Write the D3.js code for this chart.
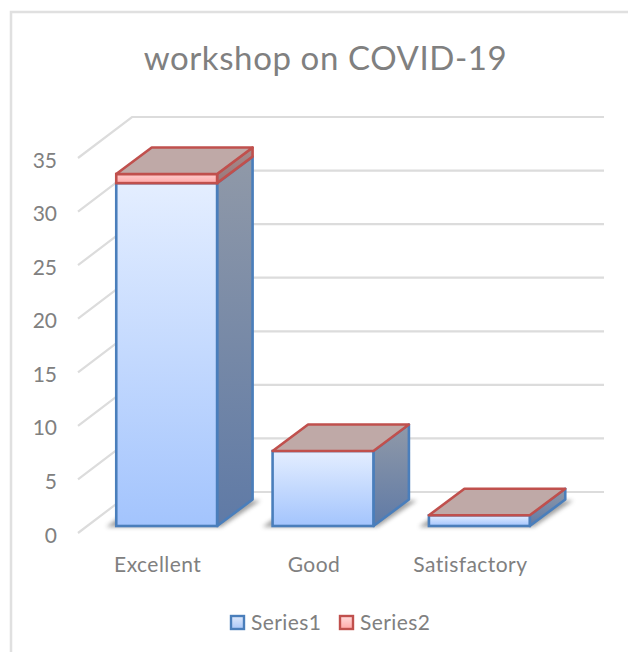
<!DOCTYPE html>
<html><head><meta charset="utf-8">
<script src="https://cdn.jsdelivr.net/npm/d3@7/dist/d3.min.js"></script>
<style>html,body{margin:0;padding:0;background:#fff}svg{display:block}
text{font-family:Lato,"Open Sans",sans-serif;fill:#808080}</style></head><body>
<div id="c"></div>
<script>
const titleText = "workshop on COVID-19";
const categories = ["Excellent","Good","Satisfactory"];
const series1 = [32,7,1];
const series2 = [0.85,0,0];
const seriesNames = ["Series1","Series2"];
const yTicks = [0,5,10,15,20,25,30,35];

const W=628,H=652;
const svg=d3.select("#c").append("svg").attr("width",W).attr("height",H);
const defs=svg.append("defs");
function grad(id,c1,c2){const g=defs.append("linearGradient").attr("id",id).attr("x1",0).attr("y1",0).attr("x2",0).attr("y2",1);
 g.append("stop").attr("offset",0).attr("stop-color",c1);g.append("stop").attr("offset",1).attr("stop-color",c2);}
grad("blueFront","#e4eeff","#a3c4fd");
grad("blueSide","#9099a8","#5f7aa6");
grad("redFront","#ffcdcd","#ffa9a9");
grad("redSide","#a88b8c","#98797b");
grad("blueKey","#dfe9fb","#a9c6f8");
grad("redKey","#ffdcdc","#ffa8a8");
defs.append("filter").attr("id","blur").attr("x","-20%").attr("y","-50%").attr("width","140%").attr("height","200%")
 .append("feGaussianBlur").attr("stdDeviation",2);

// frame
svg.append("path").attr("d",`M${W},12H11V${H}`).attr("fill","none").attr("stroke","#e0e0e0").attr("stroke-width",2.5);

svg.append("text").attr("x",325.5).attr("y",70).attr("text-anchor","middle")
 .attr("font-size",33).style("letter-spacing","0.6px").text(titleText);

const y=d3.scaleLinear().domain([0,35]).range([526,151]);
const x=d3.scaleBand().domain(categories).range([88.5,557.5]).paddingInner(0.355).paddingOuter(0.1775);
const dx=35.5,dy=26.5;         // bar depth projection
const wallDx=54,wallDy=41,floorDrop=7; // wall projection

// gridlines on walls
const grid=svg.append("g").attr("fill","none").attr("stroke","#dcdcdc").attr("stroke-width",2.2);
yTicks.forEach(t=>{
 const yf=y(t)+floorDrop;
 grid.append("path").attr("d",`M78,${yf}L${78+wallDx},${yf-wallDy}H604`);
});

// y axis labels
const yAxis=d3.axisLeft(y).tickValues(yTicks).tickSize(0).tickPadding(0);
const ga=svg.append("g").attr("transform","translate(57,9.3)").call(yAxis);
ga.select(".domain").remove();
ga.selectAll("text").attr("font-size",21).style("font-family","Lato").style("fill","#808080");

// x axis labels
const xAxis=d3.axisBottom(x).tickSize(0).tickPadding(0);
const gx=svg.append("g").attr("transform","translate(-9,557.5)").call(xAxis);
gx.select(".domain").remove();
gx.selectAll("text").attr("font-size",21).style("letter-spacing","0.45px").style("font-family","Lato").style("fill","#808080");

const poly=p=>p.map(a=>a.join(",")).join(" ");
const blue="#4a7ebb",red="#c0504d",sw=2.6;
categories.forEach((c,i)=>{
 const x0=x(c),w=x.bandwidth(),x1=x0+w;
 const yb=y(0),y1=y(series1[i]),y2=y(series1[i]+series2[i]);
 const g=svg.append("g");
 // floor shadow
 g.append("polygon").attr("points",poly([[x0-10,yb+1],[x1+4,yb+1],[x1+dx+8,yb-dy+1],[x0+dx-10,yb-dy+1]]))
  .attr("fill","#555").attr("opacity",.55).attr("filter","url(#blur)");
 // series 1 side + front
 g.append("polygon").attr("points",poly([[x1,yb],[x1+dx,yb-dy],[x1+dx,y1-dy],[x1,y1]]))
  .attr("fill","url(#blueSide)").attr("stroke",blue).attr("stroke-width",sw).attr("stroke-linejoin","round");
 g.append("rect").attr("x",x0).attr("y",y1).attr("width",w).attr("height",yb-y1)
  .attr("fill","url(#blueFront)").attr("stroke",blue).attr("stroke-width",sw);
 // series 2 side + front
 if(series2[i]>0){
  g.append("polygon").attr("points",poly([[x1,y1],[x1+dx,y1-dy],[x1+dx,y2-dy],[x1,y2]]))
   .attr("fill","url(#redSide)").attr("stroke",red).attr("stroke-width",sw).attr("stroke-linejoin","round");
  g.append("rect").attr("x",x0).attr("y",y2).attr("width",w).attr("height",y1-y2)
   .attr("fill","url(#redFront)").attr("stroke",red).attr("stroke-width",sw);
 }
 // top
 g.append("polygon").attr("points",poly([[x0,y2],[x1,y2],[x1+dx,y2-dy],[x0+dx,y2-dy]]))
  .attr("fill","#bfa9a7").attr("stroke",red).attr("stroke-width",sw).attr("stroke-linejoin","round");
});

// legend
const keyX=[237.5,346.5],keyFill=["url(#blueKey)","url(#redKey)"],keyStroke=[blue,red];
const leg=svg.append("g");
seriesNames.forEach((n,i)=>{
 leg.append("rect").attr("x",keyX[i]-6.5).attr("y",616).attr("width",13).attr("height",13)
  .attr("fill",keyFill[i]).attr("stroke",keyStroke[i]).attr("stroke-width",2.4);
 leg.append("text").attr("x",keyX[i]+13.5).attr("y",630).attr("font-size",21).style("letter-spacing","0.4px").text(n);
});
</script></body></html>
